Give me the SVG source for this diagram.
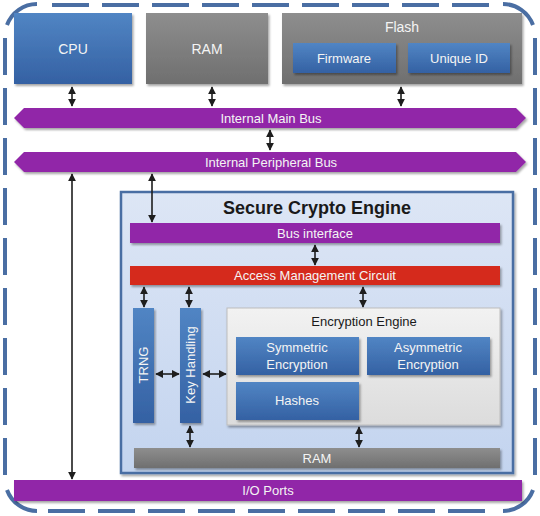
<svg xmlns="http://www.w3.org/2000/svg" width="540" height="516" viewBox="0 0 540 516">
<defs>
<linearGradient id="gBlue" x1="0" y1="0" x2="0" y2="1"><stop offset="0" stop-color="#5185c4"/><stop offset="1" stop-color="#3461a3"/></linearGradient>
<linearGradient id="gGray" x1="0" y1="0" x2="0" y2="1"><stop offset="0" stop-color="#8e8e8e"/><stop offset="1" stop-color="#6f6f6f"/></linearGradient>
<linearGradient id="gLight" x1="0" y1="0" x2="0" y2="1"><stop offset="0" stop-color="#dde6f5"/><stop offset="1" stop-color="#c3d4ef"/></linearGradient>
<linearGradient id="gEnc" x1="0" y1="0" x2="0" y2="1"><stop offset="0" stop-color="#f2f2f2"/><stop offset="1" stop-color="#dcdcdc"/></linearGradient>
<filter id="sh" x="-10%" y="-10%" width="120%" height="130%"><feDropShadow dx="1.5" dy="2" stdDeviation="1.2" flood-color="#000" flood-opacity="0.35"/></filter>
<marker id="ah" viewBox="0 0 10 10" refX="9" refY="5" markerWidth="5" markerHeight="5" orient="auto-start-reverse"><path d="M0,0 L10,5 L0,10 z" fill="#1e1e1e"/></marker>
<style>
.lbl{font-family:"Liberation Sans",Arial,sans-serif;font-size:13px;fill:#f4f4f4;text-anchor:middle}
.big{font-size:14px}
.dk{fill:#1a1a1a}
.bdr{fill:none;stroke:#4a6ea3;stroke-width:4}
.dash{stroke-dasharray:37 13}
.blue{fill:url(#gBlue);filter:url(#sh)}
.gray{fill:url(#gGray);filter:url(#sh)}
.purple{fill:#9128a8;filter:url(#sh)}
.red{fill:#d52b1c;filter:url(#sh)}
.con{stroke:#1e1e1e;stroke-width:1.6;fill:none;marker-start:url(#ah);marker-end:url(#ah)}
</style>
</defs>
<rect width="540" height="516" fill="#ffffff"/>
<g id="border" class="bdr">
<path d="M7,25 A32,32 0 0 1 37,4"/>
<path d="M503,4 A32,32 0 0 1 533,25"/>
<path d="M533,490 A32,32 0 0 1 503,511"/>
<path d="M37,511 A32,32 0 0 1 7,490"/>
<line class="dash" x1="52" y1="5" x2="492" y2="5"/>
<line class="dash" x1="48" y1="511" x2="492" y2="511"/>
<line class="dash" x1="5" y1="38" x2="5" y2="476"/>
<line class="dash" x1="535" y1="38" x2="535" y2="480"/>
</g>
<g id="cpu"><rect class="blue" x="14" y="13" width="118" height="71"/><text class="lbl big" x="73" y="54">CPU</text></g>
<g id="ram"><rect class="gray" x="146" y="13" width="122" height="71"/><text class="lbl big" x="207" y="54">RAM</text></g>
<g id="flash"><rect class="gray" x="282" y="13" width="240" height="71"/><text class="lbl big" x="402" y="32">Flash</text></g>
<g id="firmware"><rect class="blue" x="293" y="43" width="103" height="30"/><text class="lbl" x="344" y="63">Firmware</text></g>
<g id="uniqueid"><rect class="blue" x="408" y="43" width="102" height="30"/><text class="lbl" x="459" y="63">Unique ID</text></g>
<g id="mainbus"><polygon class="purple" points="14,118 24,108 516,108 526,118 516,128 24,128"/><text class="lbl" x="271" y="123">Internal Main Bus</text></g>
<g id="periphbus"><polygon class="purple" points="14,162 24,152 516,152 526,162 516,172 24,172"/><text class="lbl" x="271" y="167">Internal Peripheral Bus</text></g>
<g id="sce"><rect x="121" y="192" width="392" height="281" fill="url(#gLight)" stroke="#4a6ea3" stroke-width="2.5" filter="url(#sh)"/><text x="317" y="214" font-family="Liberation Sans,Arial,sans-serif" font-size="18" font-weight="bold" fill="#1a1a1a" text-anchor="middle">Secure Crypto Engine</text></g>
<g id="busif"><rect class="purple" x="130" y="223" width="370" height="20"/><text class="lbl" x="315" y="238">Bus interface</text></g>
<g id="amc"><rect class="red" x="130" y="266" width="370" height="19"/><text class="lbl" x="315" y="280">Access Management Circuit</text></g>
<g id="trng"><rect class="blue" x="133" y="308" width="21" height="115"/><text class="lbl" transform="translate(148,365) rotate(-90)">TRNG</text></g>
<g id="keyhandling"><rect class="blue" x="180" y="308" width="21" height="115"/><text class="lbl" transform="translate(195,365) rotate(-90)">Key Handling</text></g>
<g id="encengine"><rect x="227" y="308" width="273" height="117" fill="url(#gEnc)" stroke="#bdbdbd" stroke-width="1" filter="url(#sh)"/><text class="lbl dk" x="364" y="326">Encryption Engine</text></g>
<g id="symmetric"><rect class="blue" x="236" y="337" width="123" height="38"/><text class="lbl" x="297" y="352">Symmetric</text><text class="lbl" x="297" y="369">Encryption</text></g>
<g id="asymmetric"><rect class="blue" x="367" y="337" width="123" height="38"/><text class="lbl" x="428" y="352">Asymmetric</text><text class="lbl" x="428" y="369">Encryption</text></g>
<g id="hashes"><rect class="blue" x="236" y="382" width="123" height="38"/><text class="lbl" x="297" y="405">Hashes</text></g>
<g id="sceram"><rect class="gray" x="134" y="448" width="366" height="20"/><text class="lbl" x="317" y="463">RAM</text></g>
<g id="ioports"><rect class="purple" x="14" y="480" width="508" height="21"/><text class="lbl" x="268" y="495">I/O Ports</text></g>
<g id="connectors">
<line class="con" x1="72" y1="87" x2="72" y2="106"/>
<line class="con" x1="212" y1="87" x2="212" y2="106"/>
<line class="con" x1="401" y1="87" x2="401" y2="106"/>
<line class="con" x1="270" y1="130" x2="270" y2="150"/>
<line class="con" x1="72" y1="174" x2="72" y2="479"/>
<line class="con" x1="152" y1="174" x2="152" y2="222"/>
<line class="con" x1="315" y1="245" x2="315" y2="265"/>
<line class="con" x1="144" y1="287" x2="144" y2="307"/>
<line class="con" x1="189" y1="287" x2="189" y2="307"/>
<line class="con" x1="363" y1="287" x2="363" y2="307"/>
<line class="con" x1="156" y1="374" x2="179" y2="374"/>
<line class="con" x1="203" y1="374" x2="226" y2="374"/>
<line class="con" x1="190" y1="426" x2="190" y2="447"/>
<line class="con" x1="359" y1="427" x2="359" y2="447"/>
</g>
</svg>
